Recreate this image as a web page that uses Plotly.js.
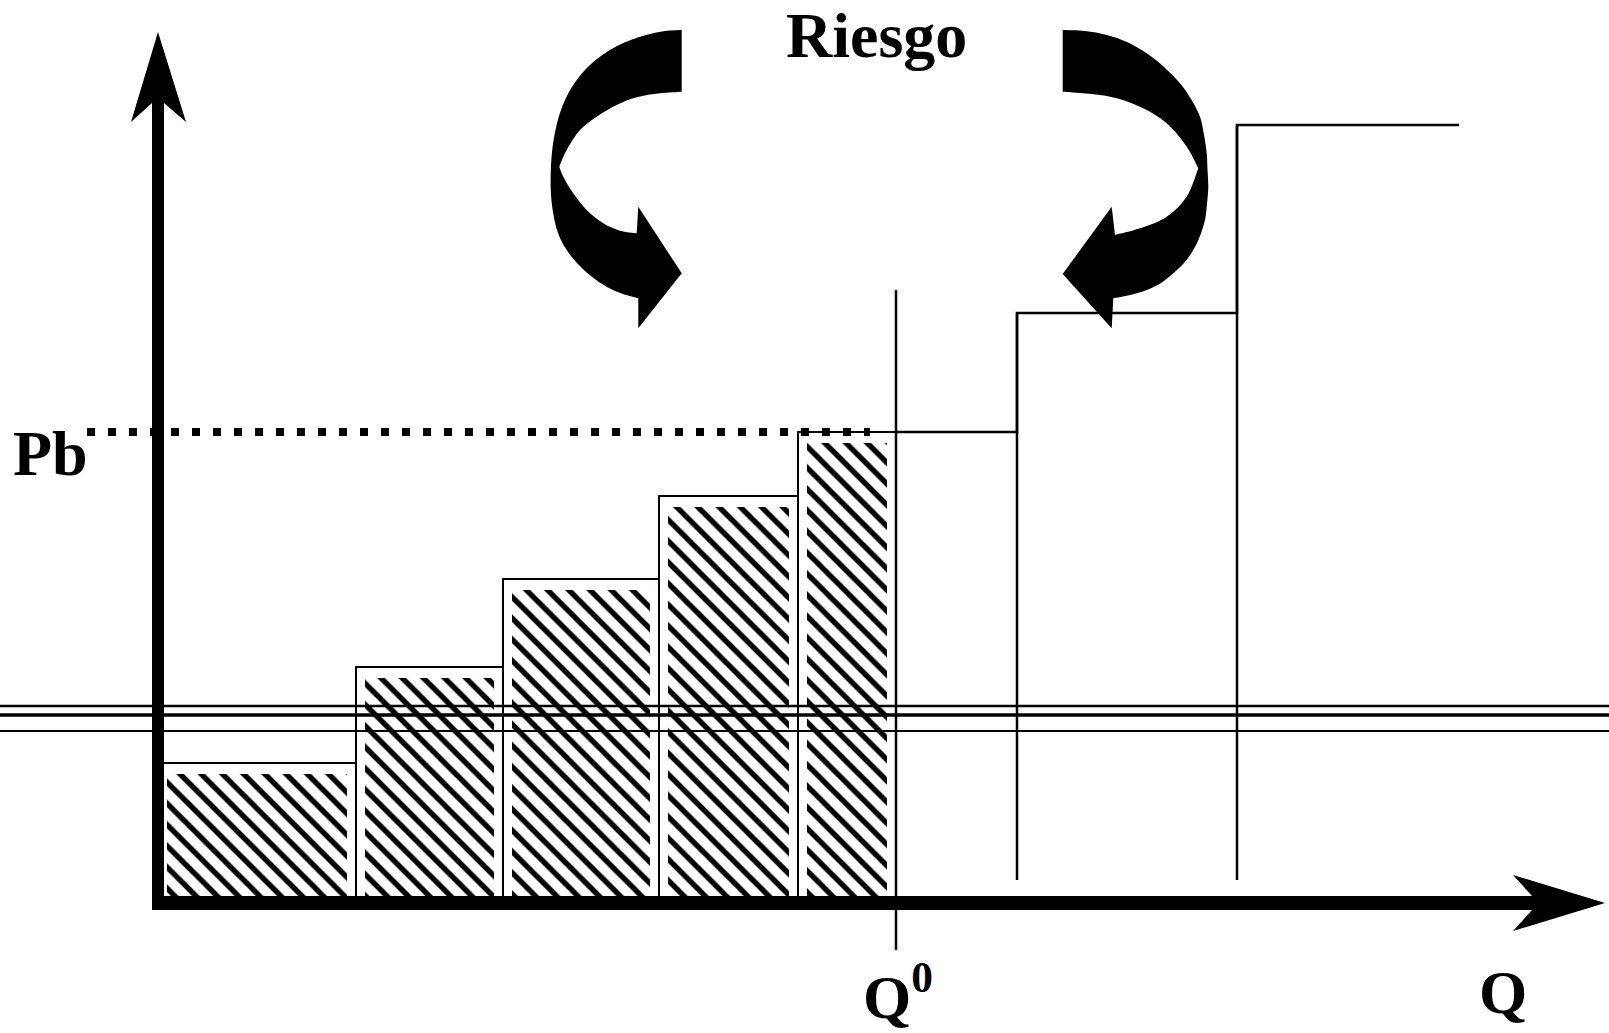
<!DOCTYPE html>
<html>
<head>
<meta charset="utf-8">
<script src="https://cdn.plot.ly/plotly-3.0.1.min.js"></script>
<style>html,body{margin:0;padding:0;background:#fff;}#chart{width:1609px;height:1033px;}</style>
</head>
<body>
<div id="chart"></div>
<script>
// ---- data (Q and price units) ----
const blockEdges  = [0, 19.8, 34.5, 50.1, 64.0, 85.9, 107.9, 130.1];
const blockPrices = [14.0, 23.6, 32.4, 40.7, 47.1, 59.0, 77.8];
const Q0 = 73.8;          // accepted quantity
const Pb = 47.1;          // marginal price
const dropFloor = 2.3;    // lower end of the step verticals
const q0LineRange = [-4.7, 61.3];
const scanLineLevels = [19.7, 18.8, 17.2];
const labels = {title: 'Riesgo', price: 'Pb', q0: 'Q<sup>0</sup>', q: 'Q'};

// curved "Riesgo" arrows outlines (data units)
const leftOuter  = [[52.37,87.3],[50.7,87.2],[49.0,86.85],[47.4,86.35],[45.9,85.7],[44.5,84.85],[43.2,83.8],[42.1,82.6],[41.1,81.1],[40.3,79.3],[39.75,77.3],[39.4,75.1],[39.27,72.8],[39.3,70.8],[39.55,68.8],[40.0,67.0],[40.8,65.4],[41.9,64.0],[43.3,62.7],[44.9,61.6],[46.5,60.9],[48.03,60.47]];
const leftHead   = [[48.03,57.47],[52.37,62.97],[48.03,69.63],[47.87,66.97]];
const leftInner1 = [[47.87,66.97],[46.2,67.23],[44.53,67.97],[42.87,69.3],[41.53,70.97],[40.53,72.63],[40.13,73.63]];
const leftInner2 = [[40.13,73.63],[40.87,75.3],[42.2,77.3],[43.87,78.63],[45.87,79.8],[47.87,80.57],[50.2,80.97],[52.37,81.13]];
const rightOuter  = [[90.47,87.3],[92.7,87.2],[94.87,86.8],[96.9,86.1],[98.87,84.97],[100.6,83.6],[102.2,81.97],[103.3,80.4],[104.2,78.63],[104.6,76.8],[104.87,74.97],[104.95,73.3],[105.03,71.63],[104.9,69.9],[104.7,68.3],[104.2,66.7],[103.53,65.3],[102.6,64.0],[101.53,62.97],[100.3,62.0],[98.87,61.3],[97.2,60.8],[95.53,60.47]];
const rightHead   = [[95.37,57.47],[90.47,62.9],[95.37,69.63],[95.7,66.8]];
const rightInner1 = [[95.7,66.8],[98.2,67.47],[100.87,68.63],[102.87,70.63],[104.03,73.47]];
const rightInner2 = [[104.03,73.47],[102.87,75.63],[100.87,77.97],[98.2,79.63],[94.87,80.7],[90.47,81.13]];

// axis arrows (data units)
const yAxisTop = 80.5, yAxisHead = [[0,87.1],[2.8,78.1],[0.6,80.0],[-0.6,80.0],[-2.7,78.1]];
const xAxisEnd = 138,  xAxisHead = [[144.7,0],[135.5,2.8],[137.4,0.7],[137.4,-0.7],[135.5,-2.8]];

// ---- build ----
const accX = [], accW = [], accY = [];
for (let i = 0; i < blockPrices.length; i++) {
  const l = blockEdges[i], r = Math.min(blockEdges[i+1], Q0);
  if (l >= Q0) break;
  accX.push((l + r) / 2); accW.push(r - l); accY.push(blockPrices[i]);
}
const insetX = 0.9, insetTop = 1.1, insetBot = 0.7;
const hatchX = accX.map(v => v), hatchW = accW.map(w => w - 2*insetX);
const hatchBase = accY.map(() => insetBot), hatchY = accY.map(p => p - insetTop - insetBot);

const traces = [
  {type:'bar', x:accX, y:accY, width:accW, base:0,
   marker:{color:'white', line:{color:'black', width:2}}, hoverinfo:'skip'},
  {type:'bar', x:hatchX, y:hatchY, width:hatchW, base:hatchBase,
   marker:{color:'white', line:{width:0},
     pattern:{shape:'\\', fgcolor:'black', bgcolor:'white', size:15, solidity:0.36}}, hoverinfo:'skip'}
];

// step after Q0
const stepX = [Q0], stepY = [Pb];
for (let i = 0; i < blockPrices.length; i++) {
  if (blockEdges[i] >= Q0) { stepX.push(blockEdges[i]); stepY.push(blockPrices[i]); }
}
stepX.push(blockEdges[blockEdges.length-1]); stepY.push(blockPrices[blockPrices.length-1]);
traces.push({type:'scatter', mode:'lines', x:stepX, y:stepY, line:{color:'black', width:2.5, shape:'hv'}, hoverinfo:'skip'});
for (let i = 0; i < blockPrices.length; i++) {
  if (blockEdges[i] > Q0) {
    traces.push({type:'scatter', mode:'lines', x:[blockEdges[i], blockEdges[i]], y:[blockPrices[i], dropFloor],
      line:{color:'black', width:2.5}, hoverinfo:'skip'});
  }
}

function fmt(p){ return p[0].toFixed(3) + ',' + p[1].toFixed(3); }
function smooth(pts){
  let d = '';
  const n = pts.length;
  for (let i = 0; i < n-1; i++) {
    const p0 = pts[Math.max(i-1,0)], p1 = pts[i], p2 = pts[i+1], p3 = pts[Math.min(i+2,n-1)];
    const c1 = [p1[0] + (p2[0]-p0[0])/6, p1[1] + (p2[1]-p0[1])/6];
    const c2 = [p2[0] - (p3[0]-p1[0])/6, p2[1] - (p3[1]-p1[1])/6];
    d += ' C' + fmt(c1) + ' ' + fmt(c2) + ' ' + fmt(p2);
  }
  return d;
}
function arrowPath(outer, head, in1, in2){
  let d = 'M' + fmt(outer[0]) + smooth(outer);
  head.forEach(p => { d += ' L' + fmt(p); });
  d += smooth(in1) + smooth(in2) + ' Z';
  return d;
}
function polyPath(pts){ return 'M' + pts.map(fmt).join(' L') + ' Z'; }

const shapes = [];
// Q0 line
shapes.push({type:'line', xref:'x', yref:'y', x0:Q0, x1:Q0, y0:q0LineRange[0], y1:q0LineRange[1], line:{color:'black', width:2.5}, layer:'above'});
// Pb dotted
shapes.push({type:'line', xref:'x', yref:'y', x0:-7.1, x1:Q0-2.6, y0:Pb, y1:Pb, line:{color:'black', width:8, dash:'8px,13px'}, layer:'above'});
// scan lines
const scanW = [2.5, 3.5, 2];
scanLineLevels.forEach((v, i) => shapes.push({type:'line', xref:'paper', yref:'y', x0:0, x1:1, y0:v, y1:v, line:{color:'black', width:scanW[i]}, layer:'above'}));
// axes
shapes.push({type:'line', xref:'x', yref:'y', x0:0, x1:0, y0:-0.7, y1:yAxisTop, line:{color:'black', width:12}, layer:'above'});
shapes.push({type:'path', xref:'x', yref:'y', path:polyPath(yAxisHead), fillcolor:'black', line:{width:0}, layer:'above'});
shapes.push({type:'line', xref:'x', yref:'y', x0:-0.6, x1:xAxisEnd, y0:0, y1:0, line:{color:'black', width:14}, layer:'above'});
shapes.push({type:'path', xref:'x', yref:'y', path:polyPath(xAxisHead), fillcolor:'black', line:{width:0}, layer:'above'});
// curved arrows
shapes.push({type:'path', xref:'x', yref:'y', path:arrowPath(leftOuter, leftHead, leftInner1, leftInner2), fillcolor:'black', line:{width:0}, layer:'above'});
shapes.push({type:'path', xref:'x', yref:'y', path:arrowPath(rightOuter, rightHead, rightInner1, rightInner2), fillcolor:'black', line:{width:0}, layer:'above'});

const fam = 'Liberation Serif, Times New Roman, serif';
const f = {family:fam, size:64, color:'black', weight:'bold'};
const fq = {family:fam, size:62, color:'black', weight:'bold'};
const annotations = [
  {text:labels.title, x:71.8, y:86.8, xref:'x', yref:'y', showarrow:false, xanchor:'center', yanchor:'middle', font:f},
  {text:labels.price, x:-10.8, y:45.0, xref:'x', yref:'y', showarrow:false, xanchor:'center', yanchor:'middle', font:f},
  {text:labels.q0, x:74.0, y:-8.9, xref:'x', yref:'y', showarrow:false, xanchor:'center', yanchor:'middle', font:fq},
  {text:labels.q, x:134.5, y:-8.9, xref:'x', yref:'y', showarrow:false, xanchor:'center', yanchor:'middle', font:fq}
];

const layout = {
  width:1609, height:1033, margin:{l:0, r:0, t:0, b:0, pad:0},
  paper_bgcolor:'white', plot_bgcolor:'white', showlegend:false, barmode:'overlay',
  xaxis:{range:[-15.8, 145.1], visible:false, fixedrange:true},
  yaxis:{range:[-13.0, 90.3], visible:false, fixedrange:true},
  shapes:shapes, annotations:annotations
};
Plotly.newPlot('chart', traces, layout, {staticPlot:true, displayModeBar:false});
</script>
</body>
</html>
